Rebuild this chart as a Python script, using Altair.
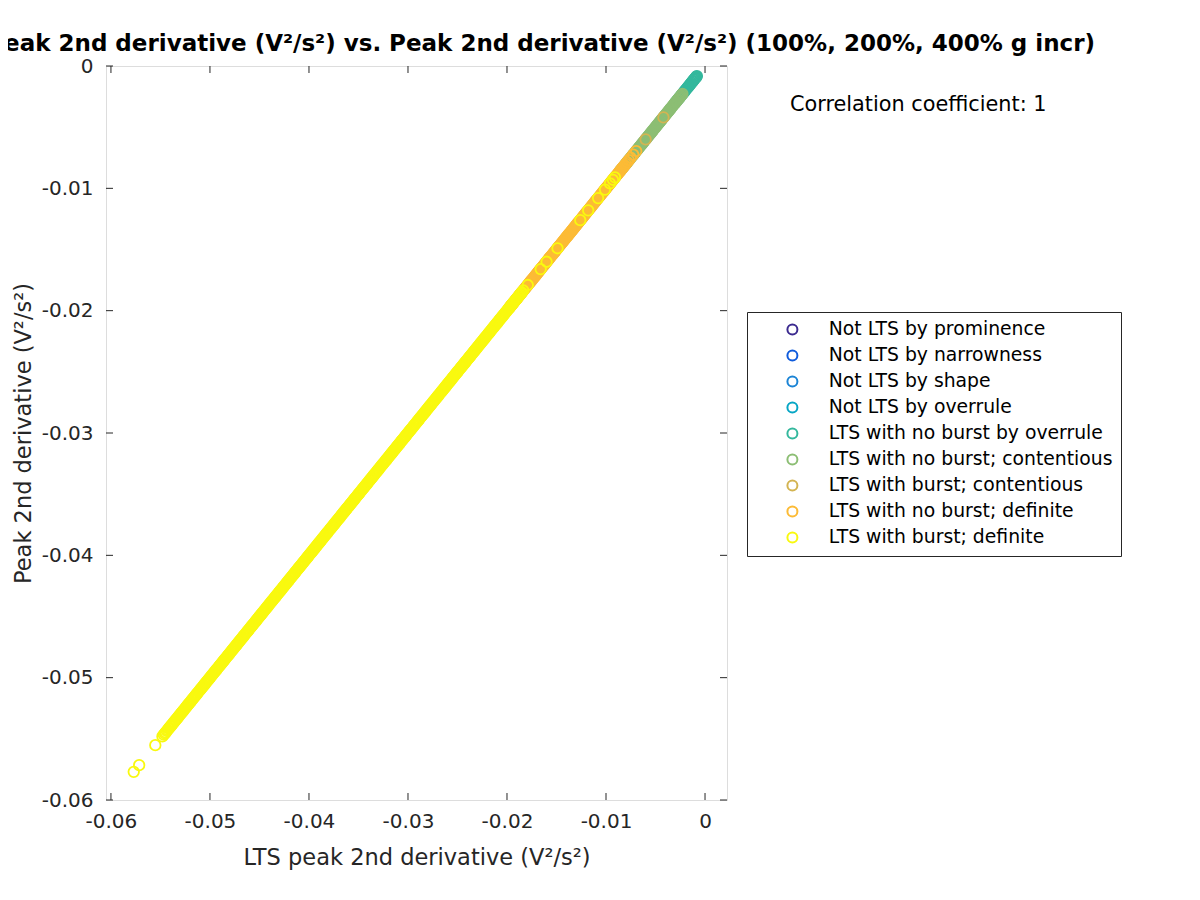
import altair as alt
import pandas as pd

categories = [
    "Not LTS by prominence",
    "Not LTS by narrowness",
    "Not LTS by shape",
    "Not LTS by overrule",
    "LTS with no burst by overrule",
    "LTS with no burst; contentious",
    "LTS with burst; contentious",
    "LTS with no burst; definite",
    "LTS with burst; definite",
]
colors = ["#3b2a8f", "#0f5bdc", "#1b84d5", "#07a6c5", "#34b89d",
          "#8cbe74", "#d3b452", "#fcbb36", "#f9f90f"]

# values in units of 1e-5 V^2/s^2 (LTS peak == peak, correlation 1)
teal_vals = [-300, -285, -270, -258, -246, -235, -224, -214, -204, -195,
             -186, -177, -168, -160, -152, -144, -136, -128, -121, -114,
             -107, -100, -94, -88, -82]
green_vals = [-860, -845, -832, -822, -812, -803, -794, -785, -776, -767,
              -758, -749, -740, -731, -722, -713, -704, -695, -686, -677,
              -668, -659, -650, -641, -632, -623, -614, -605, -596, -587,
              -578, -569, -560, -551, -542, -533, -524, -515, -506, -497,
              -488, -479, -470, -461, -452, -443, -434, -425, -416, -407,
              -398, -389, -380, -371, -362, -353, -344, -335, -326, -317,
              -308, -299, -290, -281, -272, -263, -254, -245, -236, -228]
gold_vals = [-600, -420]
orange_vals = [-1975, -1967, -1959, -1951, -1943, -1935, -1927, -1919, -1911, -1903,
               -1895, -1887, -1879, -1871, -1863, -1855, -1847, -1839, -1831, -1823,
               -1815, -1807, -1799, -1791, -1783, -1775, -1767, -1759, -1751, -1743,
               -1735, -1727, -1719, -1711, -1703, -1695, -1687, -1679, -1671, -1663,
               -1655, -1647, -1639, -1631, -1623, -1615, -1607, -1599, -1591, -1583,
               -1575, -1567, -1559, -1551, -1543, -1535, -1527, -1519, -1511, -1503,
               -1495, -1487, -1479, -1471, -1463, -1455, -1447, -1439, -1431, -1423,
               -1415, -1407, -1399, -1391, -1383, -1375, -1367, -1359, -1351, -1343,
               -1335, -1327, -1319, -1311, -1303, -1295, -1287, -1279, -1271, -1263,
               -1255, -1247, -1239, -1231, -1223, -1215, -1207, -1199, -1191, -1183,
               -1175, -1167, -1159, -1151, -1143, -1135, -1127, -1119, -1111, -1103,
               -1095, -1087, -1079, -1071, -1063, -1055, -1047, -1039, -1031, -1023,
               -1015, -1007, -999, -991, -983, -975, -967, -959, -951, -943,
               -935, -927, -919, -911, -903, -895, -887, -879, -871, -863,
               -855, -847, -839, -831, -823, -812, -800, -786, -770, -750, -725, -695]
yellow_vals = [-5770, -5715, -5552,
               -5480, -5466, -5455, -5447, -5436, -5428, -5417, -5409, -5398, -5390,
               -5379, -5370, -5361, -5351, -5343, -5332, -5324, -5313, -5305, -5294,
               -5286, -5275, -5267, -5256, -5248, -5238, -5229, -5219, -5210, -5201,
               -5191, -5182, -5173, -5163, -5154, -5145, -5135, -5126, -5117, -5107,
               -5098, -5089, -5079, -5070, -5061, -5051, -5042, -5033, -5023, -5014,
               -5005, -4995, -4986, -4977, -4967, -4958, -4949, -4939, -4930, -4921,
               -4911, -4902, -4893, -4883, -4874, -4865, -4855, -4846, -4837, -4827,
               -4818, -4809, -4799, -4790, -4781, -4771, -4762, -4753, -4743, -4734,
               -4725, -4715, -4706, -4697, -4687, -4678, -4669, -4659, -4650, -4641,
               -4631, -4622, -4613, -4603, -4594, -4585, -4575, -4566, -4557, -4547,
               -4538, -4529, -4519, -4510, -4501, -4491, -4482, -4473, -4463, -4454,
               -4445, -4435, -4426, -4417, -4407, -4398, -4389, -4379, -4370, -4361,
               -4351, -4342, -4333, -4323, -4314, -4305, -4295, -4286, -4277, -4267,
               -4258, -4249, -4239, -4230, -4221, -4211, -4202, -4193, -4183, -4174,
               -4165, -4155, -4146, -4137, -4127, -4118, -4109, -4099, -4090, -4081,
               -4071, -4062, -4053, -4043, -4034, -4025, -4015, -4006, -3997, -3987,
               -3978, -3969, -3959, -3950, -3941, -3931, -3922, -3913, -3903, -3894,
               -3885, -3875, -3866, -3857, -3847, -3838, -3829, -3819, -3810, -3801,
               -3791, -3782, -3773, -3763, -3754, -3745, -3735, -3726, -3717, -3707,
               -3698, -3689, -3679, -3670, -3661, -3651, -3642, -3633, -3623, -3614,
               -3605, -3595, -3586, -3577, -3567, -3558, -3549, -3539, -3530, -3521,
               -3511, -3502, -3493, -3483, -3474, -3465, -3455, -3446, -3437, -3427,
               -3418, -3409, -3399, -3390, -3381, -3371, -3362, -3353, -3343, -3334,
               -3325, -3315, -3306, -3297, -3287, -3278, -3269, -3259, -3250, -3241,
               -3231, -3222, -3213, -3203, -3194, -3185, -3175, -3166, -3157, -3147,
               -3138, -3129, -3119, -3110, -3101, -3091, -3082, -3073, -3063, -3054,
               -3045, -3035, -3026, -3017, -3007, -2998, -2989, -2979, -2970, -2961,
               -2951, -2942, -2933, -2923, -2914, -2905, -2895, -2886, -2877, -2867,
               -2858, -2849, -2839, -2830, -2821, -2811, -2802, -2793, -2783, -2774,
               -2765, -2755, -2746, -2737, -2727, -2718, -2709, -2699, -2690, -2681,
               -2671, -2662, -2653, -2643, -2634, -2625, -2615, -2606, -2597, -2587,
               -2578, -2569, -2559, -2550, -2541, -2531, -2522, -2513, -2503, -2494,
               -2485, -2475, -2466, -2457, -2447, -2438, -2429, -2419, -2410, -2401,
               -2391, -2382, -2373, -2363, -2354, -2345, -2335, -2326, -2317, -2307,
               -2298, -2289, -2279, -2270, -2261, -2251, -2242, -2233, -2223, -2214,
               -2205, -2195, -2186, -2177, -2167, -2158, -2149, -2139, -2130, -2121,
               -2111, -2102, -2093, -2083, -2074, -2065, -2055, -2046, -2037, -2027,
               -2018, -2009, -1999, -1990, -1981, -1971, -1962, -1953, -1943, -1934,
               -1925, -1915, -1906, -1897, -1887, -1878, -1869, -1859, -1850,
               -1835, -1790, -1660, -1600, -1490, -1260, -1180, -1080, -1010,
               -960, -930, -910]

tick_values = [-0.06, -0.05, -0.04, -0.03, -0.02, -0.01, 0.0]
title_text = "Peak 2nd derivative (V²/s²) vs. Peak 2nd derivative (V²/s²) (100%, 200%, 400% g incr)"
corr_text = "Correlation coefficient: 1"
x_title = "LTS peak 2nd derivative (V²/s²)"
y_title = "Peak 2nd derivative (V²/s²)"

rows = []
for cat, vals in [(categories[4], teal_vals), (categories[5], green_vals),
                  (categories[6], gold_vals), (categories[7], orange_vals),
                  (categories[8], yellow_vals)]:
    rows += [{"v": v * 1e-5, "cat": cat} for v in vals]
df = pd.DataFrame(rows)
ticks_df = pd.DataFrame({"t": tick_values})

W, H = 621, 734
FONT = "DejaVu Sans"
AX = "#262626"
label_expr = "datum.value == 0 ? '0' : '-' + format(abs(datum.value), '.2f')"

xscale = alt.Scale(domain=[-0.0605, 0.00222], nice=False, zero=False)
yscale = alt.Scale(domain=[-0.06, 0.0], nice=False, zero=False)
xaxis = alt.Axis(values=tick_values, labelExpr=label_expr, grid=False, ticks=False,
                 tickSize=0, domain=False, labelFontSize=20, labelColor=AX,
                 labelFont=FONT, labelPadding=11, title=x_title, titleFont=FONT,
                 titleFontSize=22.5, titleFontWeight="normal", titleColor=AX,
                 titlePadding=15)
yaxis = alt.Axis(values=tick_values, labelExpr=label_expr, grid=False, ticks=False,
                 tickSize=0, domain=False, labelFontSize=20, labelColor=AX,
                 labelFont=FONT, labelPadding=13, title=y_title, titleFont=FONT,
                 titleFontSize=22.5, titleFontWeight="normal", titleColor=AX,
                 titlePadding=6)


def X(field):
    return alt.X(field, type="quantitative", scale=xscale, axis=xaxis)


def Y(field):
    return alt.Y(field, type="quantitative", scale=yscale, axis=yaxis)


points = alt.Chart(df).mark_point(filled=False, shape="circle", size=110,
                                  strokeWidth=1.8, opacity=1).encode(
    x=X("v"),
    y=Y("v"),
    color=alt.Color("cat:N", title=None,
                    scale=alt.Scale(domain=categories, range=colors),
                    legend=alt.Legend(orient="none", legendX=641, legendY=246,
                                      symbolType="circle", symbolSize=100,
                                      symbolStrokeWidth=2, symbolFillColor="white",
                                      symbolOffset=28, labelOffset=27,
                                      labelFont=FONT, labelFontSize=18.8,
                                      labelColor="black", rowPadding=6.0,
                                      padding=8, strokeColor=AX, fillColor="white",
                                      labelLimit=500)),
)

tk = alt.Chart(ticks_df).mark_rule(color=AX, strokeWidth=1)
bottom_ticks = tk.encode(x=X("t"), y=alt.value(H), y2=alt.value(H - 7))
top_ticks = tk.encode(x=X("t"), y=alt.value(0), y2=alt.value(7))
left_ticks = tk.encode(y=Y("t"), x=alt.value(0), x2=alt.value(7))
right_ticks = tk.encode(y=Y("t"), x=alt.value(W), x2=alt.value(W - 7))

title_layer = alt.Chart(pd.DataFrame({"s": [title_text]})).mark_text(
    font=FONT, fontSize=23, fontWeight="bold", color="black", align="right",
    baseline="alphabetic").encode(text="s:N", x=alt.value(989), y=alt.value(-15))
corr_layer = alt.Chart(pd.DataFrame({"s": [corr_text]})).mark_text(
    font=FONT, fontSize=20.8, color="black", align="left",
    baseline="alphabetic").encode(text="s:N", x=alt.value(684), y=alt.value(45))

chart = alt.layer(points, bottom_ticks, top_ticks, left_ticks, right_ticks,
                  title_layer, corr_layer).properties(
    width=W, height=H,
    autosize=alt.AutoSizeParams(type="none"),
    padding={"left": 98, "top": 58, "right": 420, "bottom": 90},
).configure_view(stroke=AX, strokeWidth=1).configure(background="white")

chart.save("out.html", embed_options={"renderer": "svg", "actions": False})
